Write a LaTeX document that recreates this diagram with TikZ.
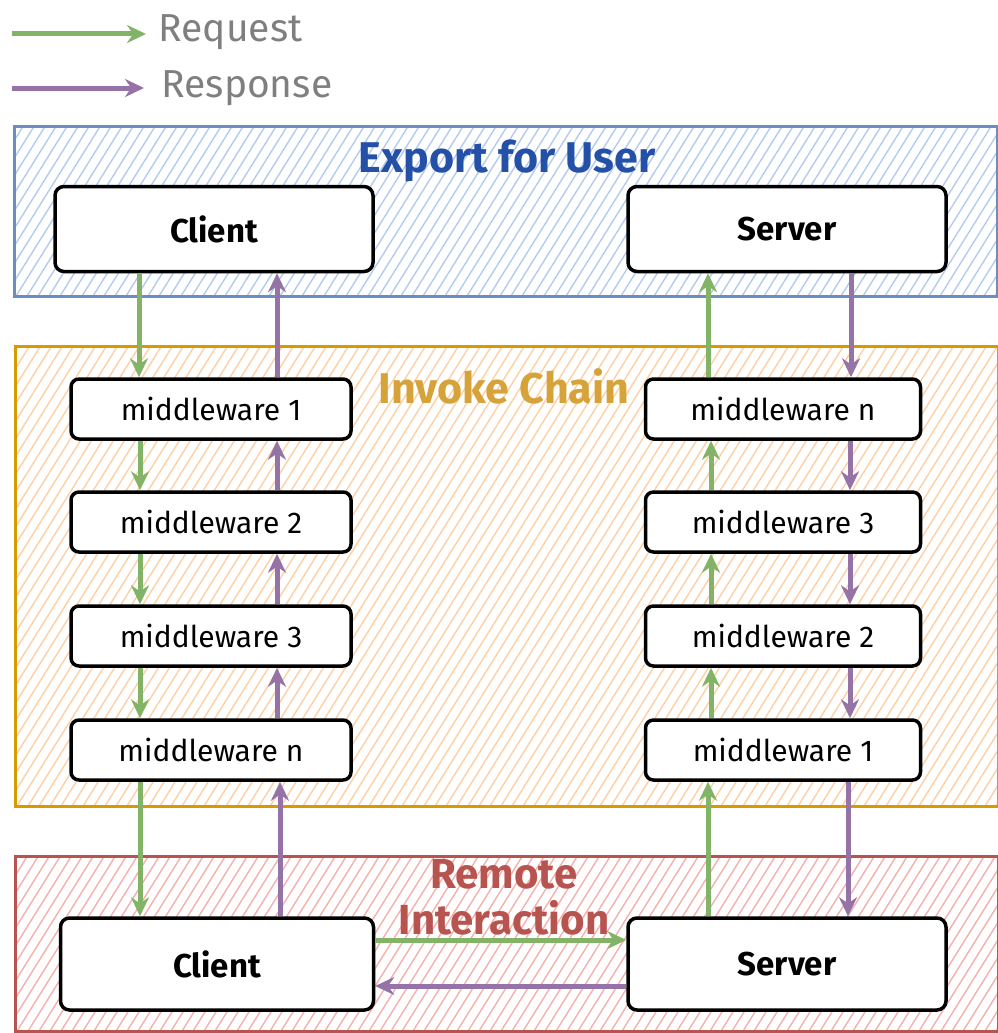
\documentclass[tikz,border=0pt]{standalone}
\usepackage{fontspec}
\setmainfont{Fira Sans}
\usetikzlibrary{arrows.meta,calc}
\definecolor{grn}{HTML}{82B366}
\definecolor{prp}{HTML}{9673A6}
\definecolor{bluB}{HTML}{6C8EBF}
\definecolor{bluH}{HTML}{B3CBEE}
\definecolor{bluT}{HTML}{2450A8}
\definecolor{orB}{HTML}{D79B00}
\definecolor{orH}{HTML}{FFCFA3}
\definecolor{orT}{HTML}{D6A23A}
\definecolor{rdB}{HTML}{B85450}
\definecolor{rdH}{HTML}{F5B0AD}
\definecolor{legT}{HTML}{7F7F7F}
\tikzset{
  hatched/.style={path picture={
    \foreach \k in {-330,-319,...,1000}
      \draw[#1,line width=1.4pt] ($(path picture bounding box.south west)+(\k pt,-2pt)$) -- ++(300pt,480pt);
  }},
  group/.style 2 args={draw=#1,line width=3pt,hatched=#2,anchor=north west,inner sep=0pt},
  bigbox/.style={draw=black,fill=white,line width=3.5pt,rounded corners=9pt,
    minimum width=318pt,minimum height=85pt,font=\fontsize{33}{36}\selectfont\bfseries},
  mwbox/.style={draw=black,fill=white,line width=3.5pt,rounded corners=8pt,
    minimum width=280pt,minimum height=60pt,font=\fontsize{30}{33}\selectfont},
  req/.style={draw=grn,line width=5pt,-{Stealth[length=19pt,width=18pt]}},
  rsp/.style={draw=prp,line width=5pt,-{Stealth[length=19pt,width=18pt]}},
  grouptitle/.style={font=\fontsize{43}{46}\selectfont\bfseries},
}
\begin{document}
\begin{tikzpicture}[x=1pt,y=-1pt]
\useasboundingbox (0,0) rectangle (998,1033);
% legend
\coordinate (l1a) at (12,34); \coordinate (l1b) at (146,34);
\coordinate (l2a) at (12,88); \coordinate (l2b) at (144,88);
\draw[req] (l1a) -- (l1b);
\draw[rsp] (l2a) -- (l2b);
\node[anchor=west,text=legT,font=\fontsize{39}{42}\selectfont] (lreq) at (155,32) {Request};
\node[anchor=west,text=legT,font=\fontsize{39}{42}\selectfont] (lrsp) at (158,88) {Response};
% groups
\node[group={bluB}{bluH},minimum width=983pt,minimum height=170pt] (gblue) at (13,125) {};
\node[group={orB}{orH},minimum width=983pt,minimum height=460pt] (gor) at (14,345) {};
\node[group={rdB}{rdH},minimum width=983pt,minimum height=175pt] (grd) at (14,855) {};
\node[grouptitle,text=bluT] (tblue) at (507,161) {Export for User};
\node[grouptitle,text=orT] (tor) at (504,386) {Invoke Chain};
\node[grouptitle,text=rdB,align=center,font=\fontsize{42}{46}\selectfont\bfseries] (trd) at (504,897) {Remote\\Interaction};
% top boxes
\node[bigbox] (c1) at (214,229) {Client};
\node[bigbox] (s1) at (787,229) {Server};
% left middleware
\node[mwbox] (lm1) at (211,409) {middleware 1};
\node[mwbox] (lm2) at (211,522) {middleware 2};
\node[mwbox] (lm3) at (211,636) {middleware 3};
\node[mwbox] (lmn) at (211,750) {middleware n};
% right middleware
\node[mwbox,minimum width=275pt] (rmn) at (783,409) {middleware n};
\node[mwbox,minimum width=275pt] (rm3) at (783,522) {middleware 3};
\node[mwbox,minimum width=275pt] (rm2) at (783,636) {middleware 2};
\node[mwbox,minimum width=275pt] (rm1) at (783,750) {middleware 1};
% bottom boxes
\node[bigbox,minimum width=313pt,minimum height=92pt] (c2) at (217,964) {Client};
\node[bigbox,minimum height=92pt] (s2) at (787,964) {Server};
% left chain arrows
\draw[req] (c1.south -| 139,0) -- (lm1.north -| 139,0);
\draw[req] (lm1.south -| 140,0) -- (lm2.north -| 140,0);
\draw[req] (lm2.south -| 140,0) -- (lm3.north -| 140,0);
\draw[req] (lm3.south -| 140,0) -- (lmn.north -| 140,0);
\draw[req] (lmn.south -| 140,0) -- (c2.north -| 140,0);
\draw[rsp] (lm1.north -| 277,0) -- (c1.south -| 277,0);
\draw[rsp] (lm2.north -| 277,0) -- (lm1.south -| 277,0);
\draw[rsp] (lm3.north -| 277,0) -- (lm2.south -| 277,0);
\draw[rsp] (lmn.north -| 277,0) -- (lm3.south -| 277,0);
\draw[rsp] (c2.north -| 280,0) -- (lmn.south -| 280,0);
% right chain arrows
\draw[req] (rmn.north -| 708,0) -- (s1.south -| 708,0);
\draw[req] (rm3.north -| 711,0) -- (rmn.south -| 711,0);
\draw[req] (rm2.north -| 711,0) -- (rm3.south -| 711,0);
\draw[req] (rm1.north -| 711,0) -- (rm2.south -| 711,0);
\draw[req] (s2.north -| 708,0) -- (rm1.south -| 708,0);
\draw[rsp] (s1.south -| 851,0) -- (rmn.north -| 851,0);
\draw[rsp] (rmn.south -| 850,0) -- (rm3.north -| 850,0);
\draw[rsp] (rm3.south -| 850,0) -- (rm2.north -| 850,0);
\draw[rsp] (rm2.south -| 850,0) -- (rm1.north -| 850,0);
\draw[rsp] (rm1.south -| 848,0) -- (s2.north -| 848,0);
% remote interaction
\draw[req] (c2.east |- 0,940) -- (s2.west |- 0,940);
\draw[rsp] (s2.west |- 0,986) -- (c2.east |- 0,986);
\end{tikzpicture}
\end{document}
